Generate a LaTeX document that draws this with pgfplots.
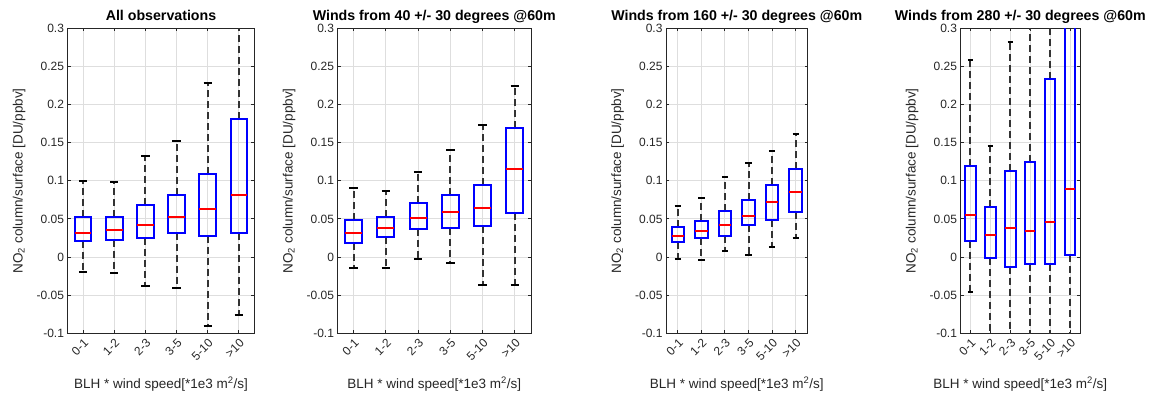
\documentclass[border=0pt]{standalone}
\usepackage{pgfplots}
\pgfplotsset{compat=1.18}
\usepackage{fontspec}
\setmainfont{Liberation Sans}
\definecolor{axgray}{gray}{0.15}
\definecolor{gridgray}{gray}{0.87}
\definecolor{mblue}{rgb}{0,0,1}
\definecolor{mred}{rgb}{1,0,0}
\pgfplotsset{
  wdash/.style={draw=black!80, line width=2pt, dash pattern=on 7pt off 4pt, mark=none, forget plot},
  wcap/.style={draw=black, line width=2pt, solid, mark=none, forget plot},
  bbox/.style={draw=mblue, line width=2pt, solid, mark=none, line join=miter, forget plot},
  bmed/.style={draw=mred, line width=2pt, solid, mark=none, forget plot},
  panel/.style={
    scale only axis, height=305pt, anchor=south west,
    xmin=0.5, xmax=6.5, ymin=-0.1, ymax=0.3,
    xtick={1,2,3,4,5,6}, xticklabels={0-1,1-2,2-3,3-5,5-10,>10},
    ytick={-0.1,-0.05,0,0.05,0.1,0.15,0.2,0.25,0.3},
    scaled y ticks=false,
    /pgf/number format/assume math mode=true,
    yticklabel style={/pgf/number format/fixed,/pgf/number format/precision=2},
    every tick label/.append style={font=\fontsize{12}{14}\selectfont, text=axgray},
    x tick label style={rotate=45, anchor=north east},
    grid=major, major grid style={gridgray, line width=1pt},
    axis line style={axgray, line width=1pt},
    tick style={axgray, line width=1pt}, major tick length=3pt, tick align=inside,
    title style={font=\fontsize{14.2}{16}\selectfont\bfseries, at={(axis description cs:0.5,1)}, anchor=base, yshift=1.6pt},
    xlabel={BLH * wind speed[*1e3 m\textsuperscript{2}/s]},
    ylabel={NO\textsubscript{2} column/surface [DU/ppbv]},
    xlabel style={font=\fontsize{13.5}{16}\selectfont, text=axgray, at={([yshift=-55pt]axis description cs:0.5,0)}, anchor=base},
    ylabel style={font=\fontsize{13.5}{16}\selectfont, text=axgray, at={([xshift=-45pt]axis description cs:0,0.5)}, anchor=base, rotate=0},
  }
}
% \bx{position}{lower whisker}{lower quartile}{median}{upper quartile}{upper whisker}
\newcommand{\bx}[6]{%
  \pgfmathsetmacro\xa{#1-0.265}\pgfmathsetmacro\xb{#1+0.265}%
  \pgfmathsetmacro\ca{#1-0.135}\pgfmathsetmacro\cb{#1+0.135}%
  \edef\temp{%
    \noexpand\addplot[wdash] coordinates {(#1,#3) (#1,#2)};
    \noexpand\addplot[wdash] coordinates {(#1,#5) (#1,#6)};
    \noexpand\addplot[wcap] coordinates {(\ca,#2) (\cb,#2)};
    \noexpand\addplot[wcap] coordinates {(\ca,#6) (\cb,#6)};
    \noexpand\addplot[bbox] coordinates {(#1,#3) (\xb,#3) (\xb,#5) (\xa,#5) (\xa,#3) (#1,#3)};
    \noexpand\addplot[bmed] coordinates {(\xa,#4) (\xb,#4)};
  }\temp}
\begin{document}
\begin{tikzpicture}
\path[use as bounding box] (0,0) rectangle (1151pt,397pt);
\begin{axis}[panel, at={(67.5pt,63.7pt)}, width=187pt, title={All observations}]
\bx{1}{-0.019}{0.0214}{0.0315}{0.052}{0.100}
\bx{2}{-0.021}{0.023}{0.0354}{0.053}{0.099}
\bx{3}{-0.038}{0.025}{0.042}{0.068}{0.133}
\bx{4}{-0.041}{0.032}{0.052}{0.082}{0.152}
\bx{5}{-0.091}{0.028}{0.0625}{0.109}{0.228}
\bx{6}{-0.076}{0.031}{0.081}{0.181}{0.32}
\end{axis}
\begin{axis}[panel, at={(337.5pt,63.7pt)}, width=193.5pt, title={Winds from 40 +/- 30 degrees @60m}]
\bx{1}{-0.015}{0.019}{0.031}{0.048}{0.090}
\bx{2}{-0.015}{0.026}{0.038}{0.053}{0.086}
\bx{3}{-0.002}{0.037}{0.051}{0.071}{0.111}
\bx{4}{-0.008}{0.038}{0.059}{0.082}{0.141}
\bx{5}{-0.037}{0.041}{0.064}{0.095}{0.173}
\bx{6}{-0.037}{0.058}{0.115}{0.169}{0.224}
\end{axis}
\begin{axis}[panel, at={(666pt,63.7pt)}, width=141.5pt, title={Winds from 160 +/- 30 degrees @60m}]
\bx{1}{-0.002}{0.020}{0.027}{0.039}{0.067}
\bx{2}{-0.004}{0.0245}{0.034}{0.047}{0.078}
\bx{3}{0.008}{0.028}{0.0415}{0.060}{0.1045}
\bx{4}{0.0026}{0.042}{0.054}{0.075}{0.124}
\bx{5}{0.013}{0.0485}{0.072}{0.094}{0.139}
\bx{6}{0.025}{0.0595}{0.085}{0.115}{0.161}
\end{axis}
\begin{axis}[panel, at={(960.5pt,63.7pt)}, width=119.5pt, title={Winds from 280 +/- 30 degrees @60m}]
\bx{1}{-0.046}{0.0215}{0.055}{0.119}{0.259}
\bx{2}{-0.15}{-0.0016}{0.029}{0.065}{0.146}
\bx{3}{-0.15}{-0.0126}{0.038}{0.113}{0.2815}
\bx{4}{-0.15}{-0.0095}{0.034}{0.125}{0.35}
\bx{5}{-0.15}{-0.0095}{0.046}{0.233}{0.35}
\bx{6}{-0.15}{0.0032}{0.089}{0.35}{0.45}
\end{axis}
\end{tikzpicture}
\end{document}
